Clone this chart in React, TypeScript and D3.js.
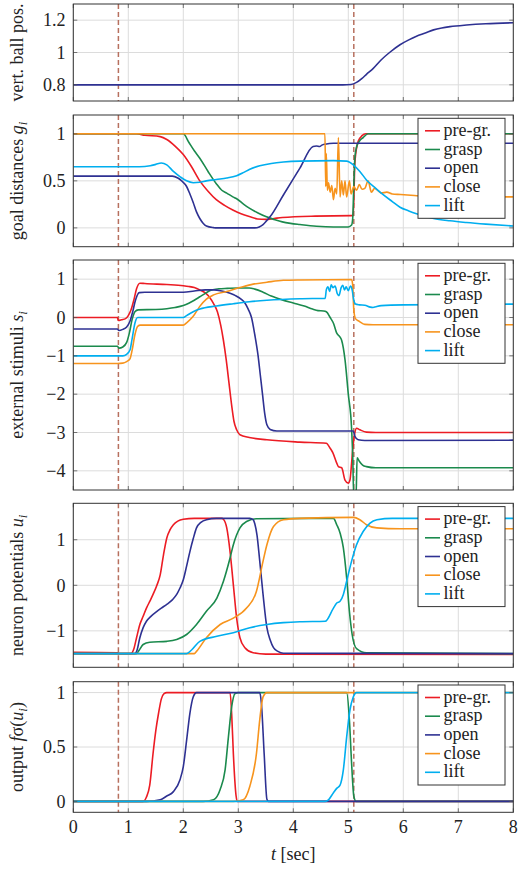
import React from 'react';
import * as d3 from 'd3';

type Pt = [number, number];

const seriesNames = ['pre-gr.', 'grasp', 'open', 'close', 'lift'];
const seriesColors = ['#ec1c24', '#1b8a4d', '#2e3192', '#f7941d', '#00aeef'];
const eventTimes = [0.82, 5.1];
const xTicks = [0, 1, 2, 3, 4, 5, 6, 7, 8];

// vertical ball position
const ballPos: Pt[] = [[0, 0.8], [4.9, 0.8], [5.05, 0.802], [5.15, 0.815], [5.25, 0.84], [5.33, 0.865], [5.45, 0.9], [5.6, 0.955], [5.75, 1.0], [5.94, 1.048], [6.1, 1.078], [6.24, 1.1], [6.4, 1.12], [6.55, 1.14], [6.7, 1.152], [6.85, 1.16], [7.15, 1.17], [7.5, 1.178], [8, 1.184]];

// goal distances g_i
const goalPre: Pt[] = [[0, 1], [1.15, 1], [1.3, 0.985], [1.58, 0.97], [1.7, 0.94], [1.85, 0.87], [2.0, 0.78], [2.15, 0.65], [2.3, 0.5], [2.45, 0.39], [2.6, 0.3], [2.75, 0.24], [2.9, 0.19], [3.05, 0.15], [3.2, 0.12], [3.35, 0.095], [3.5, 0.09], [3.65, 0.1], [3.8, 0.11], [4.4, 0.125], [5.06, 0.13], [5.09, 0.13], [5.12, 0.7], [5.18, 0.92], [5.25, 0.98], [5.32, 1], [8, 1]];
const goalGrasp: Pt[] = [[0, 1], [2.0, 1], [2.1, 0.91], [2.2, 0.82], [2.3, 0.74], [2.45, 0.6], [2.6, 0.47], [2.7, 0.4], [2.79, 0.37], [2.9, 0.33], [2.97, 0.31], [3.1, 0.25], [3.2, 0.21], [3.35, 0.16], [3.5, 0.12], [3.65, 0.09], [3.8, 0.064], [3.95, 0.048], [4.12, 0.036], [4.42, 0.018], [4.73, 0.01], [5.0, 0.01], [5.06, 0.03], [5.08, 0.1], [5.1, 0.45], [5.12, 0.75], [5.15, 0.86], [5.2, 0.92], [5.27, 0.96], [5.36, 1], [8, 1]];
const goalOpen: Pt[] = [[0, 0.55], [1.8, 0.55], [1.9, 0.53], [1.97, 0.5], [2.06, 0.44], [2.12, 0.36], [2.18, 0.27], [2.24, 0.17], [2.3, 0.1], [2.36, 0.05], [2.42, 0.02], [2.55, 0.003], [2.6, 0], [3.3, 0], [3.38, 0.01], [3.45, 0.035], [3.52, 0.08], [3.58, 0.12], [3.82, 0.35], [4.12, 0.636], [4.36, 0.865], [4.42, 0.87], [4.48, 0.865], [4.52, 0.88], [4.58, 0.89], [4.73, 0.9], [8, 0.9]];
const goalClose: Pt[] = [[0, 1], [4.575, 1], [4.59, 0.44], [4.6, 0.79], [4.62, 0.4], [4.64, 0.48], [4.67, 0.38], [4.7, 0.45], [4.73, 0.3], [4.76, 0.42], [4.79, 0.36], [4.82, 0.96], [4.85, 0.33], [4.88, 0.5], [4.91, 0.35], [4.94, 0.5], [4.97, 0.33], [5.02, 0.5], [5.05, 0.36], [5.1, 0.44], [5.15, 0.4], [5.2, 0.46], [5.25, 0.41], [5.3, 0.42], [5.36, 0.5], [5.42, 0.38], [5.48, 0.42], [5.55, 0.39], [5.6, 0.37], [5.7, 0.38], [5.8, 0.36], [5.95, 0.355], [6.2, 0.345], [6.5, 0.33], [8, 0.33]];
const goalLift: Pt[] = [[0, 0.65], [1.2, 0.65], [1.4, 0.66], [1.5, 0.675], [1.6, 0.69], [1.7, 0.67], [1.82, 0.6], [1.95, 0.54], [2.06, 0.5], [2.18, 0.48], [2.3, 0.485], [2.42, 0.5], [2.6, 0.515], [2.79, 0.53], [2.97, 0.555], [3.1, 0.59], [3.2, 0.62], [3.39, 0.66], [3.6, 0.685], [3.82, 0.7], [4.12, 0.71], [4.73, 0.715], [4.97, 0.71], [5.09, 0.67], [5.21, 0.6], [5.33, 0.51], [5.5, 0.42], [5.64, 0.35], [5.8, 0.28], [5.94, 0.22], [6.1, 0.18], [6.24, 0.15], [6.55, 0.1], [6.85, 0.075], [7.15, 0.057], [7.5, 0.04], [8, 0.02]];

// external stimuli s_i
const stimPre: Pt[] = [[0, 0], [0.8, 0], [0.82, -0.08], [0.88, -0.06], [0.95, -0.03], [1.0, 0.05], [1.05, 0.2], [1.1, 0.45], [1.15, 0.75], [1.21, 0.895], [1.3, 0.885], [1.7, 0.86], [2.0, 0.83], [2.1, 0.81], [2.2, 0.78], [2.3, 0.72], [2.4, 0.64], [2.48, 0.52], [2.55, 0.36], [2.62, 0.15], [2.68, -0.2], [2.73, -0.6], [2.78, -1.1], [2.83, -1.7], [2.88, -2.3], [2.92, -2.7], [2.97, -2.93], [3.03, -3.06], [3.2, -3.13], [3.52, -3.19], [4.12, -3.25], [4.6, -3.28], [4.67, -3.41], [4.72, -3.53], [4.79, -3.8], [4.82, -3.89], [4.88, -3.92], [4.94, -4.24], [5.0, -4.32], [5.03, -4.24], [5.06, -3.8], [5.08, -3.45], [5.12, -3.0], [5.15, -2.89], [5.21, -2.93], [5.33, -2.99], [5.5, -3.0], [8, -3.0]];
const stimGrasp: Pt[] = [[0, -0.75], [0.8, -0.75], [0.83, -0.8], [0.9, -0.77], [0.97, -0.65], [1.02, -0.4], [1.07, -0.05], [1.12, 0.15], [1.18, 0.2], [1.5, 0.21], [1.7, 0.23], [1.85, 0.26], [2.0, 0.31], [2.1, 0.37], [2.2, 0.45], [2.3, 0.54], [2.4, 0.63], [2.5, 0.71], [2.65, 0.75], [2.8, 0.76], [3.0, 0.77], [3.2, 0.77], [3.3, 0.74], [3.45, 0.66], [3.6, 0.56], [3.8, 0.46], [4.0, 0.38], [4.2, 0.3], [4.35, 0.22], [4.45, 0.18], [4.55, 0.17], [4.6, 0.15], [4.67, 0.0], [4.73, -0.15], [4.79, -0.41], [4.85, -0.51], [4.88, -0.6], [4.94, -1.1], [5.0, -2.0], [5.06, -2.9], [5.08, -3.6], [5.1, -4.7], [5.14, -4.7], [5.16, -3.66], [5.2, -3.75], [5.26, -3.85], [5.33, -3.89], [5.5, -3.92], [8, -3.92]];
const stimOpen: Pt[] = [[0, -0.3], [0.8, -0.3], [0.83, -0.34], [0.9, -0.31], [0.97, -0.25], [1.03, -0.1], [1.08, 0.15], [1.13, 0.45], [1.2, 0.65], [1.3, 0.66], [2.0, 0.66], [2.2, 0.69], [2.4, 0.72], [2.55, 0.72], [2.7, 0.69], [2.85, 0.63], [2.95, 0.57], [3.05, 0.48], [3.12, 0.38], [3.18, 0.22], [3.24, 0.0], [3.3, -0.45], [3.36, -1.0], [3.4, -1.5], [3.44, -2.0], [3.48, -2.5], [3.52, -2.8], [3.58, -2.92], [3.7, -2.96], [5.09, -2.96], [5.12, -3.1], [5.18, -3.19], [5.3, -3.21], [8, -3.2]];
const stimClose: Pt[] = [[0, -1.2], [0.8, -1.2], [0.9, -1.19], [0.97, -1.15], [1.03, -1.08], [1.07, -0.85], [1.12, -0.45], [1.17, -0.23], [1.22, -0.2], [2.0, -0.2], [2.06, -0.14], [2.18, 0.03], [2.3, 0.29], [2.42, 0.48], [2.55, 0.59], [2.79, 0.68], [3.03, 0.78], [3.27, 0.87], [3.52, 0.92], [3.82, 0.97], [4.12, 0.98], [5.06, 0.99], [5.08, 0.85], [5.1, 0.2], [5.13, -0.03], [5.2, -0.1], [5.3, -0.18], [5.45, -0.19], [8, -0.19]];
const stimLift: Pt[] = [[0, -1.0], [0.9, -1.0], [0.97, -0.96], [1.03, -0.85], [1.07, -0.55], [1.12, -0.15], [1.17, 0.0], [2.0, 0.0], [2.06, 0.05], [2.18, 0.15], [2.3, 0.22], [2.6, 0.3], [2.91, 0.36], [3.2, 0.41], [3.52, 0.45], [4.12, 0.49], [4.58, 0.5], [4.6, 0.72], [4.63, 0.8], [4.66, 0.68], [4.69, 0.85], [4.72, 0.78], [4.76, 0.82], [4.8, 0.62], [4.83, 0.57], [4.87, 0.78], [4.9, 0.84], [4.93, 0.72], [4.96, 0.8], [5.0, 0.7], [5.04, 0.82], [5.07, 0.72], [5.1, 0.45], [5.13, 0.35], [5.2, 0.33], [5.3, 0.32], [5.4, 0.27], [5.45, 0.26], [5.5, 0.28], [5.6, 0.31], [6.0, 0.33], [7.0, 0.34], [8, 0.35]];

// neuron potentials u_i
const uPre: Pt[] = [[0, -1.47], [0.8, -1.48], [0.85, -1.5], [1.05, -1.5], [1.1, -1.4], [1.15, -1.15], [1.21, -0.86], [1.27, -0.68], [1.33, -0.5], [1.4, -0.33], [1.45, -0.2], [1.52, 0.0], [1.58, 0.23], [1.64, 0.67], [1.7, 1.04], [1.76, 1.22], [1.82, 1.33], [1.9, 1.41], [2.0, 1.45], [2.2, 1.47], [2.7, 1.47], [2.73, 1.45], [2.79, 1.26], [2.85, 0.74], [2.91, 0.01], [2.97, -0.72], [3.03, -1.15], [3.12, -1.37], [3.27, -1.48], [3.5, -1.51], [8, -1.52]];
const uGrasp: Pt[] = [[0, -1.5], [1.15, -1.5], [1.2, -1.42], [1.27, -1.3], [1.39, -1.25], [1.7, -1.23], [1.88, -1.19], [2.06, -1.08], [2.24, -0.86], [2.42, -0.57], [2.61, -0.28], [2.73, 0.09], [2.85, 0.6], [2.91, 0.89], [3.03, 1.26], [3.15, 1.4], [3.33, 1.46], [4.73, 1.47], [4.79, 1.33], [4.85, 1.15], [4.91, 0.82], [4.97, 0.16], [5.02, -0.57], [5.07, -1.08], [5.15, -1.39], [5.33, -1.48], [8, -1.5]];
const uOpen: Pt[] = [[0, -1.5], [1.12, -1.5], [1.16, -1.42], [1.21, -1.15], [1.27, -0.93], [1.33, -0.79], [1.42, -0.67], [1.52, -0.57], [1.6, -0.5], [1.7, -0.42], [1.8, -0.32], [1.88, -0.2], [1.94, -0.06], [2.0, 0.12], [2.06, 0.42], [2.12, 0.74], [2.18, 1.02], [2.24, 1.26], [2.32, 1.38], [2.42, 1.44], [2.6, 1.47], [3.21, 1.47], [3.27, 1.44], [3.3, 1.35], [3.34, 1.1], [3.39, 0.53], [3.45, -0.2], [3.52, -0.93], [3.58, -1.2], [3.64, -1.37], [3.72, -1.45], [3.82, -1.49], [8, -1.5]];
const uClose: Pt[] = [[0, -1.5], [2.2, -1.5], [2.24, -1.45], [2.42, -1.15], [2.67, -0.86], [2.91, -0.72], [3.15, -0.5], [3.33, -0.13], [3.45, 0.53], [3.52, 0.89], [3.64, 1.29], [3.82, 1.44], [4.12, 1.47], [5.09, 1.49], [5.21, 1.44], [5.33, 1.33], [5.52, 1.26], [5.94, 1.24], [8, 1.24]];
const uLift: Pt[] = [[0, -1.5], [2.06, -1.5], [2.15, -1.42], [2.3, -1.23], [2.61, -1.12], [2.91, -1.04], [3.21, -0.93], [3.52, -0.86], [3.82, -0.82], [4.12, -0.8], [4.58, -0.79], [4.73, -0.5], [4.79, -0.39], [4.85, -0.35], [4.91, -0.2], [4.97, 0.09], [5.06, 0.53], [5.15, 0.89], [5.27, 1.18], [5.39, 1.36], [5.52, 1.44], [5.8, 1.47], [8, 1.47]];

// output f_sigma(u_i)
const outPre: Pt[] = [[0, 0], [1.27, 0], [1.33, 0.04], [1.39, 0.15], [1.45, 0.44], [1.5, 0.65], [1.55, 0.81], [1.6, 0.94], [1.65, 0.99], [1.7, 1], [2.85, 1], [2.88, 0.8], [2.91, 0.44], [2.96, 0.05], [2.98, 0], [8, 0]];
const outGrasp: Pt[] = [[0, 0], [2.36, 0], [2.55, 0.015], [2.67, 0.11], [2.76, 0.29], [2.82, 0.59], [2.88, 0.87], [2.94, 0.99], [3.0, 1], [4.97, 1], [5.02, 0.75], [5.06, 0.35], [5.1, 0.05], [5.14, 0], [8, 0]];
const outOpen: Pt[] = [[0, 0], [1.33, 0], [1.58, 0.015], [1.7, 0.05], [1.82, 0.09], [1.94, 0.2], [2.0, 0.32], [2.06, 0.56], [2.12, 0.81], [2.18, 0.96], [2.24, 1], [3.39, 1], [3.42, 0.9], [3.47, 0.44], [3.52, 0.02], [3.55, 0], [8, 0]];
const outClose: Pt[] = [[0, 0], [2.91, 0], [3.09, 0.015], [3.21, 0.14], [3.33, 0.44], [3.39, 0.75], [3.45, 0.96], [3.52, 1], [8, 1]];
const outLift: Pt[] = [[0, 0], [4.58, 0], [4.64, 0.015], [4.73, 0.08], [4.79, 0.12], [4.85, 0.15], [4.91, 0.29], [4.97, 0.59], [5.03, 0.84], [5.09, 0.96], [5.15, 1], [8, 1]];

const FONT = "'Liberation Serif', 'Times New Roman', serif";
const FS = 18;

const x = d3.scaleLinear().domain([0, 8]).range([73.3, 513.3]);
const fmt = d3.format('~g');

const panels = [
  { id: 'ball', top: 4, bottom: 101, domain: [0.7, 1.3], ticks: [0.8, 1, 1.2], series: [ballPos], colors: ['#2e3192'], legend: false,
    label: <tspan>vert. ball pos.</tspan> },
  { id: 'goal', top: 115, bottom: 246.7, domain: [-0.2, 1.2], ticks: [0, 0.5, 1], series: [goalPre, goalGrasp, goalOpen, goalClose, goalLift], colors: seriesColors, legend: true,
    label: <><tspan>goal distances </tspan><tspan fontStyle="italic">g</tspan><tspan fontStyle="italic" fontSize={13} dy={4}>i</tspan></> },
  { id: 'stim', top: 260, bottom: 490, domain: [-4.5, 1.5], ticks: [-4, -3, -2, -1, 0, 1], series: [stimPre, stimGrasp, stimOpen, stimClose, stimLift], colors: seriesColors, legend: true,
    label: <><tspan>external stimuli </tspan><tspan fontStyle="italic">s</tspan><tspan fontStyle="italic" fontSize={13} dy={4}>i</tspan></> },
  { id: 'pot', top: 503.3, bottom: 667.3, domain: [-1.8, 1.8], ticks: [-1, 0, 1], series: [uPre, uGrasp, uOpen, uClose, uLift], colors: seriesColors, legend: true,
    label: <><tspan>neuron potentials </tspan><tspan fontStyle="italic">u</tspan><tspan fontStyle="italic" fontSize={13} dy={4}>i</tspan></> },
  { id: 'out', top: 681.7, bottom: 812.3, domain: [-0.1, 1.1], ticks: [0, 0.5, 1], series: [outPre, outGrasp, outOpen, outClose, outLift], colors: seriesColors, legend: true,
    label: <><tspan>output </tspan><tspan fontStyle="italic">f</tspan><tspan>σ(</tspan><tspan fontStyle="italic">u</tspan><tspan fontStyle="italic" fontSize={13} dy={4}>i</tspan><tspan dy={-4}>)</tspan></> },
];

function Panel({ p, last }: { p: any; last: boolean }) {
  const y = d3.scaleLinear().domain(p.domain).range([p.bottom, p.top]);
  const line = d3.line<Pt>().x(d => x(d[0])).y(d => y(d[1])).curve(d3.curveMonotoneX);
  const x0 = x(0), x1 = x(8);
  const clipId = 'clip-' + p.id;
  const lgTop = p.top + 3.3;
  const lgLeft = 418;
  const lgRight = 505;

  return (
    <g>
      <defs>
        <clipPath id={clipId}>
          <rect x={x0} y={p.top} width={x1 - x0} height={p.bottom - p.top} />
        </clipPath>
      </defs>
      {/* grid */}
      {xTicks.map(t => (
        <line key={'gx' + t} x1={x(t)} x2={x(t)} y1={p.top} y2={p.bottom} stroke="#dcdcdc" strokeWidth={1} />
      ))}
      {p.ticks.map((v: number) => (
        <line key={'gy' + v} x1={x0} x2={x1} y1={y(v)} y2={y(v)} stroke="#dcdcdc" strokeWidth={1} />
      ))}
      {/* event markers */}
      {eventTimes.map(t => (
        <line key={'ev' + t} x1={x(t)} x2={x(t)} y1={p.top} y2={p.bottom} stroke="#b7705f" strokeWidth={1.5} strokeDasharray="5,3" />
      ))}
      <g clipPath={`url(#${clipId})`}>
        {p.series.map((s: Pt[], i: number) => (
          <path key={i} d={line(s) || ''} fill="none" stroke={p.colors[i]} strokeWidth={1.6} strokeLinejoin="round" />
        ))}
      </g>
      {/* tick marks */}
      {xTicks.map(t => (
        <g key={'tx' + t} stroke="#555" strokeWidth={0.8}>
          <line x1={x(t)} x2={x(t)} y1={p.bottom} y2={p.bottom - 4} />
          <line x1={x(t)} x2={x(t)} y1={p.top} y2={p.top + 4} />
        </g>
      ))}
      {p.ticks.map((v: number) => (
        <g key={'ty' + v} stroke="#555" strokeWidth={0.8}>
          <line x1={x0} x2={x0 + 4} y1={y(v)} y2={y(v)} />
          <line x1={x1} x2={x1 - 4} y1={y(v)} y2={y(v)} />
        </g>
      ))}
      <rect x={x0} y={p.top} width={x1 - x0} height={p.bottom - p.top} fill="none" stroke="#333" strokeWidth={1} />
      {/* y tick labels */}
      {p.ticks.map((v: number) => (
        <text key={'yl' + v} x={65.5} y={y(v)} dy="0.35em" textAnchor="end" fontFamily={FONT} fontSize={FS} fill="#222">
          {fmt(v)}
        </text>
      ))}
      {/* y axis label */}
      <text transform={`translate(23,${(p.top + p.bottom) / 2}) rotate(-90)`} textAnchor="middle" fontFamily={FONT} fontSize={FS} fill="#222">
        {p.label}
      </text>
      {/* x tick labels */}
      {last && xTicks.map(t => (
        <text key={'xl' + t} x={x(t)} y={833} textAnchor="middle" fontFamily={FONT} fontSize={FS} fill="#222">
          {t}
        </text>
      ))}
      {/* legend */}
      {p.legend && (
        <g>
          <rect x={lgLeft} y={lgTop} width={lgRight - lgLeft} height={100} fill="#fff" stroke="#333" strokeWidth={1} />
          {seriesNames.map((name, i) => {
            const ry = lgTop + 12.5 + i * 18.7;
            return (
              <g key={name}>
                <line x1={425} x2={440} y1={ry} y2={ry} stroke={seriesColors[i]} strokeWidth={1.6} />
                <text x={443.5} y={ry + 5} fontFamily={FONT} fontSize={FS} fill="#222">{name}</text>
              </g>
            );
          })}
        </g>
      )}
    </g>
  );
}

export default function App() {
  return (
    <svg width={519} height={869} style={{ position: 'absolute', left: 0, top: 0, background: '#fff' }}>
      <rect width={519} height={869} fill="#fff" />
      {panels.map((p, i) => (
        <Panel key={p.id} p={p} last={i === panels.length - 1} />
      ))}
      <text x={(x(0) + x(8)) / 2} y={860} textAnchor="middle" fontFamily={FONT} fontSize={FS} fill="#222">
        <tspan fontStyle="italic">t</tspan>
        <tspan> [sec]</tspan>
      </text>
    </svg>
  );
}
